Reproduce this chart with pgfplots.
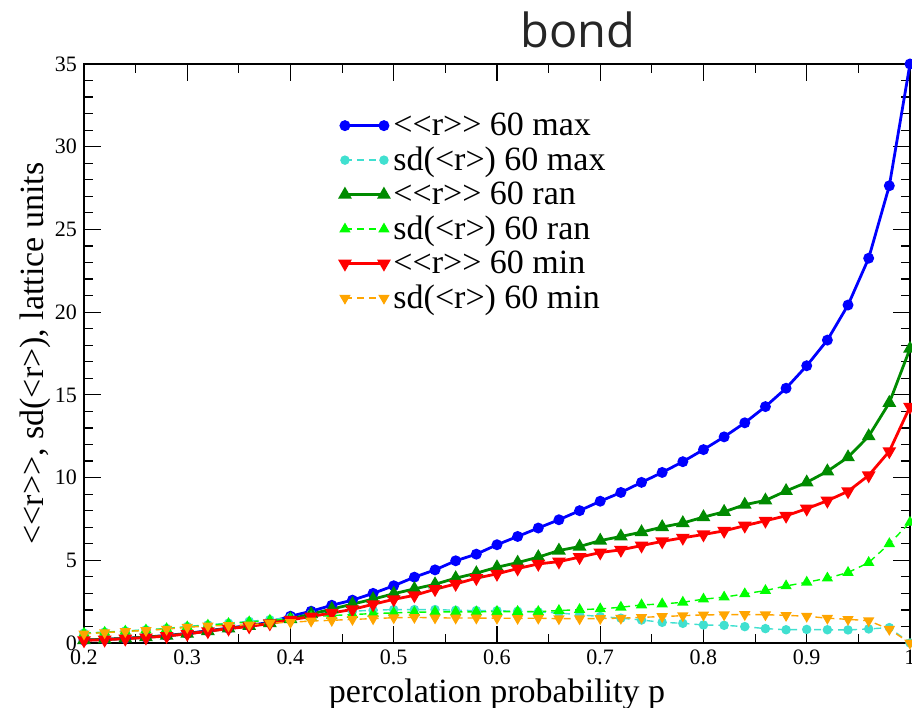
\documentclass[border=0pt]{standalone}
\usepackage{fontspec}
\setmainfont{Liberation Serif}
\newfontfamily\titlefont{Open Sans}
\usepackage{pgfplots}
\pgfplotsset{compat=1.18}
\usepackage{pgfplotstable}
\definecolor{cBlue}{RGB}{0,0,255}
\definecolor{cTurq}{RGB}{64,224,208}
\definecolor{cGreen}{RGB}{0,139,0}
\definecolor{cLGreen}{RGB}{0,255,0}
\definecolor{cRed}{RGB}{255,0,0}
\definecolor{cOrange}{RGB}{255,165,0}
\pgfplotstableread{
p    mmax   sdmax  mran   sdran  mmin   sdmin
0.20 0.18   0.60   0.18   0.58   0.16   0.55
0.22 0.22   0.66   0.22   0.64   0.20   0.63
0.24 0.28   0.73   0.28   0.71   0.26   0.70
0.26 0.36   0.80   0.35   0.78   0.33   0.76
0.28 0.45   0.88   0.44   0.86   0.42   0.84
0.30 0.58   1.00   0.56   0.97   0.55   0.95
0.32 0.74   1.10   0.72   1.07   0.71   1.03
0.34 0.90   1.20   0.88   1.17   0.87   1.06
0.36 1.06   1.31   1.03   1.27   1.00   1.10
0.38 1.25   1.41   1.20   1.37   1.18   1.20
0.40 1.62   1.55   1.45   1.45   1.40   1.25
0.42 1.92   1.75   1.75   1.58   1.60   1.33
0.44 2.28   1.88   2.05   1.66   1.82   1.37
0.46 2.59   1.92   2.35   1.72   2.03   1.43
0.48 3.00   1.98   2.65   1.78   2.34   1.47
0.50 3.46   2.02   2.98   1.82   2.64   1.53
0.52 3.98   2.02   3.27   1.86   2.88   1.55
0.54 4.42   2.02   3.55   1.88   3.25   1.52
0.56 4.97   1.98   3.92   1.88   3.57   1.51
0.58 5.37   1.96   4.22   1.88   3.92   1.51
0.60 5.94   1.95   4.58   1.90   4.18   1.50
0.62 6.44   1.92   4.86   1.90   4.50   1.49
0.64 6.95   1.88   5.19   1.90   4.78   1.50
0.66 7.45   1.82   5.59   1.96   4.92   1.47
0.68 8.00   1.70   5.83   2.02   5.19   1.47
0.70 8.57   1.60   6.19   2.06   5.47   1.48
0.72 9.10   1.50   6.44   2.16   5.63   1.50
0.74 9.71   1.39   6.70   2.30   5.89   1.55
0.76 10.31  1.25   7.01   2.36   6.14   1.60
0.78 10.96  1.19   7.25   2.46   6.36   1.65
0.80 11.69  1.09   7.61   2.65   6.56   1.70
0.82 12.46  1.07   7.93   2.77   6.78   1.71
0.84 13.31  0.99   8.36   2.97   7.09   1.72
0.86 14.29  0.87   8.62   3.17   7.39   1.71
0.88 15.40  0.80   9.19   3.45   7.69   1.67
0.90 16.76  0.82   9.71   3.67   8.12   1.62
0.92 18.31  0.80   10.38  3.92   8.60   1.50
0.94 20.43  0.79   11.23  4.26   9.17   1.43
0.96 23.26  0.85   12.50  4.86   10.13  1.35
0.98 27.64  0.93   14.52  6.00   11.59  0.83
1.00 35.00  0.00   17.79  7.29   14.28  0.00
}\data
\begin{document}
\begin{tikzpicture}
\begin{axis}[
  scale only axis,
  width=413pt, height=289.5pt,
  xmin=0.2, xmax=1.0, ymin=0, ymax=35,
  xtick={0.2,0.3,...,1.0},
  xticklabels={0.2,0.3,0.4,0.5,0.6,0.7,0.8,0.9,1},
  minor x tick num=1,
  ytick={0,5,...,35},
  minor y tick num=4,
  tick align=inside,
  major tick length=8.5pt,
  minor tick length=4.5pt,
  every tick/.style={black, line width=0.6pt},
  axis line style={line width=1pt},
  /pgf/number format/assume math mode=true,
  tick label style={font=\fontsize{11}{13}\selectfont},
  label style={font=\fontsize{17}{20}\selectfont},
  xlabel={percolation probability p},
  ylabel={<{}<r>{}>, sd(<r>), lattice units},
  ylabel shift=-5pt,
  clip=false,
  legend cell align=left,
  legend style={draw=none, fill=none, at={(0.31,0.925)}, anchor=north west,
    font=\fontsize{17}{17}\selectfont, row sep=-0.8pt, inner sep=0pt,
    nodes={inner sep=2.5pt}},
  legend image code/.code={\draw plot coordinates {(0pt,0pt) (19.5pt,0pt)};},
]
\addplot[cBlue, line width=1.4pt, mark=*, mark size=2pt] table[x=p,y=mmax]{\data};
\addlegendentry{<{}<r>{}> 60 max}
\addplot[cTurq, line width=0.7pt, dash pattern=on 3.5pt off 2.5pt, mark=*, mark size=2pt, mark options={solid}] table[x=p,y=sdmax]{\data};
\addlegendentry{sd(<r>) 60 max}
\addplot[cGreen, line width=1.4pt, mark=triangle*, mark size=2.6pt] table[x=p,y=mran]{\data};
\addlegendentry{<{}<r>{}> 60 ran}
\addplot[cLGreen, line width=0.7pt, dash pattern=on 3.5pt off 2.5pt, mark=triangle*, mark size=2.6pt, mark options={solid}] table[x=p,y=sdran]{\data};
\addlegendentry{sd(<r>) 60 ran}
\addplot[cRed, line width=1.4pt, mark=triangle*, mark size=2.6pt, mark options={rotate=180}] table[x=p,y=mmin]{\data};
\addlegendentry{<{}<r>{}> 60 min}
\addplot[cOrange, line width=0.7pt, dash pattern=on 3.5pt off 2.5pt, mark=triangle*, mark size=2.6pt, mark options={solid, rotate=180}] table[x=p,y=sdmin]{\data};
\addlegendentry{sd(<r>) 60 min}
\node[anchor=base, yshift=8.5pt, font=\titlefont\fontsize{23.5}{26}\selectfont, text=black!85] at (axis description cs:0.598,1) {bond};
\end{axis}
\pgfresetboundingbox
\useasboundingbox (-42pt,-32.5pt) rectangle (414pt,321.5pt);
\end{tikzpicture}
\end{document}
